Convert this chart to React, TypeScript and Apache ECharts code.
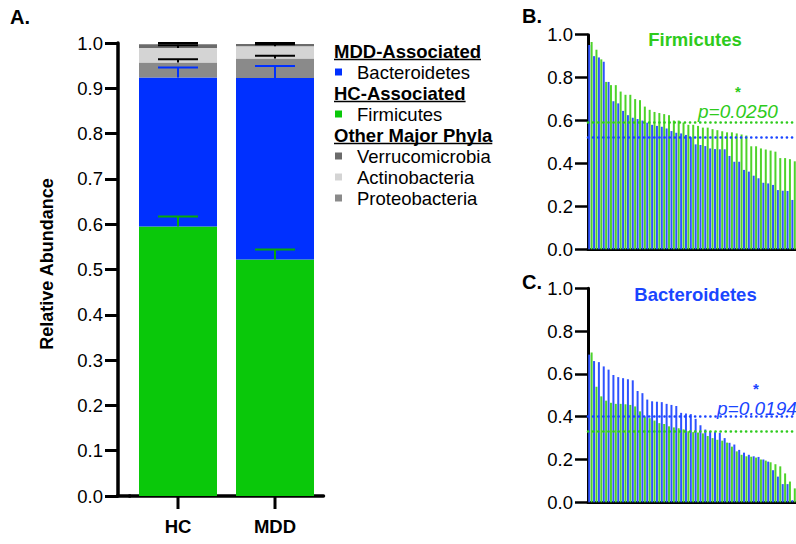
import React, { useEffect, useRef } from "react";
import * as echarts from "echarts";

// ---------- Panel A data ----------
const groups = ["HC", "MDD"];
const firmicutes = [0.595, 0.522];
const bacteroidetes = [0.329, 0.401];
const proteobacteria = [0.033, 0.043];
const actinobacteria = [0.032, 0.027];
const verrucomicrobia = [0.008, 0.005];
const firmicutesErr = [0.022, 0.022];
const bacteroidetesErr = [0.022, 0.026];
const proteobacteriaErr = [0.007, 0.006];
const actinobacteriaErr = [0.006, 0.004];
const verrucomicrobiaErr = [0.003, 0.002];

// ---------- Panel B: Firmicutes per subject (sorted) ----------
const firmHC = [0.966, 0.93, 0.885, 0.78, 0.765, 0.765, 0.735, 0.72, 0.72, 0.7, 0.695, 0.665, 0.65, 0.64, 0.635, 0.63, 0.625, 0.6, 0.6, 0.59, 0.58, 0.58, 0.575, 0.567, 0.567, 0.56, 0.555, 0.55, 0.545, 0.545, 0.54, 0.535, 0.53, 0.48, 0.48, 0.47, 0.465, 0.46, 0.455, 0.425, 0.425, 0.42, 0.41];
const firmMDD = [0.952, 0.9, 0.894, 0.874, 0.78, 0.69, 0.68, 0.645, 0.625, 0.613, 0.607, 0.6, 0.59, 0.58, 0.575, 0.571, 0.563, 0.551, 0.543, 0.54, 0.533, 0.522, 0.489, 0.486, 0.481, 0.47, 0.467, 0.466, 0.466, 0.435, 0.408, 0.408, 0.37, 0.362, 0.343, 0.331, 0.31, 0.307, 0.3, 0.276, 0.273, 0.272, 0.23];

// ---------- Panel C: Bacteroidetes per subject (sorted) ----------
const bactHC = [0.7, 0.54, 0.495, 0.475, 0.465, 0.46, 0.46, 0.458, 0.455, 0.448, 0.425, 0.4, 0.393, 0.382, 0.37, 0.366, 0.355, 0.35, 0.346, 0.341, 0.332, 0.328, 0.326, 0.322, 0.31, 0.3, 0.292, 0.288, 0.279, 0.26, 0.238, 0.222, 0.215, 0.213, 0.209, 0.2, 0.195, 0.187, 0.178, 0.168, 0.135, 0.097, 0.065];
const bactMDD = [0.69, 0.66, 0.655, 0.635, 0.62, 0.595, 0.585, 0.58, 0.575, 0.57, 0.52, 0.51, 0.48, 0.472, 0.47, 0.468, 0.46, 0.455, 0.45, 0.418, 0.415, 0.412, 0.39, 0.36, 0.34, 0.332, 0.328, 0.325, 0.3, 0.278, 0.27, 0.245, 0.232, 0.222, 0.215, 0.212, 0.2, 0.19, 0.15, 0.12, 0.085, 0.085, 0.01];

const firmP = "p=0.0250";
const bactP = "p=0.0194";
const panelLetters = ["A.", "B.", "C."];
const panelTitles = ["Firmicutes", "Bacteroidetes"];
const yName = "Relative Abundance";

const legendRows = [
  { kind: "header", text: "MDD-Associated" },
  { kind: "item", text: "Bacteroidetes", color: "#0030ff" },
  { kind: "header", text: "HC-Associated" },
  { kind: "item", text: "Firmicutes", color: "#0ac80a" },
  { kind: "header", text: "Other Major Phyla" },
  { kind: "item", text: "Verrucomicrobia", color: "#6b6b6b" },
  { kind: "item", text: "Actinobacteria", color: "#d4d4d4" },
  { kind: "item", text: "Proteobacteria", color: "#8a8a8a" },
];

const FONT = "'Liberation Sans', Arial, Helvetica, sans-serif";
const GREEN = "#0ac80a";
const BLUE = "#0030ff";
const THIN_GREEN = "#4fd32a";
const THIN_BLUE = "#2f52ff";
const TXT_GREEN = "#2ecb1c";
const TXT_BLUE = "#1a45ff";

// layout
const gridA = { left: 129.5, top: 43, width: 194, height: 453 };
const axisAOffset = 11.5;
const gridB = { left: 588, top: 34.7, right: 0, height: 214.6 };
const gridC = { left: 588, top: 288.3, right: 0, height: 214 };

function measure(text: string, font: string) {
  const c = document.createElement("canvas").getContext("2d");
  if (!c) return text.length * 10;
  c.font = font;
  return c.measureText(text).width;
}

export default function App() {
  const ref = useRef<HTMLDivElement>(null);
  useEffect(() => {
    const chart = echarts.init(ref.current!, null, { renderer: "svg" });

    const stackSeries = [
      { name: "Firmicutes", data: firmicutes, color: GREEN },
      { name: "Bacteroidetes", data: bacteroidetes, color: BLUE },
      { name: "Proteobacteria", data: proteobacteria, color: "#8a8a8a" },
      { name: "Actinobacteria", data: actinobacteria, color: "#d4d4d4" },
      { name: "Verrucomicrobia", data: verrucomicrobia, color: "#6b6b6b" },
    ];
    const errs = [firmicutesErr, bacteroidetesErr, proteobacteriaErr, actinobacteriaErr, verrucomicrobiaErr];
    const errColors = ["#08a808", BLUE, "#000", "#000", "#000"];

    const errorData: number[][] = [];
    groups.forEach((_, gi) => {
      let cum = 0;
      stackSeries.forEach((s, si) => {
        cum += s.data[gi];
        errorData.push([gi, cum, errs[si][gi], si]);
      });
    });

    const subjects = firmHC.map((_, i) => String(i + 1));

    const yAxisCommon = {
      type: "value",
      min: 0,
      max: 1,
      splitLine: { show: false },
      axisLine: { show: true, onZero: false, lineStyle: { color: "#000", width: 3 } },
      axisTick: { show: true, length: 13, lineStyle: { color: "#000", width: 2.5 } },
      axisLabel: { color: "#000", fontSize: 18.5, fontFamily: FONT, margin: 15, formatter: (v: number) => v.toFixed(1) },
    };

    const dotted = (color: string, value: number) => ({
      silent: true,
      symbol: ["none", "none"],
      label: { show: false },
      z: 20,
      lineStyle: { color, width: 2.6, type: [0.1, 5], cap: "round" },
      data: [{ yAxis: value }],
    });

    const thinBar = (name: string, data: number[], color: string, axis: number, mean: number, lineColor: string) => ({
      name,
      type: "bar",
      xAxisIndex: axis,
      yAxisIndex: axis,
      data,
      barWidth: 2,
      barGap: "20%",
      itemStyle: { color },
      markLine: dotted(lineColor, mean),
    });

    // legend graphics
    const legendEls: any[] = [];
    let y = 51;
    legendRows.forEach((r) => {
      if (r.kind === "header") {
        const font = `bold 18.5px ${FONT}`;
        const w = measure(r.text, font);
        legendEls.push({
          type: "text",
          x: 334,
          y,
          style: { text: r.text, fontSize: 18.5, fontWeight: "bold", fontFamily: FONT, fill: "#000", align: "left", verticalAlign: "middle" },
        });
        legendEls.push({ type: "rect", shape: { x: 334, y: y + 7.75, width: w, height: 1.5 }, style: { fill: "#000" } });
      } else {
        legendEls.push({ type: "rect", shape: { x: 335, y: y - 3.5, width: 7, height: 7 }, style: { fill: (r as any).color } });
        legendEls.push({
          type: "text",
          x: 357,
          y,
          style: { text: r.text, fontSize: 18.5, fontFamily: FONT, fill: "#000", align: "left", verticalAlign: "middle" },
        });
      }
      y += 21;
    });

    const axAx = gridA.left - axisAOffset;

    const option: any = {
      animation: false,
      backgroundColor: "#fff",
      textStyle: { fontFamily: FONT },
      grid: [gridA, gridB, gridC],
      xAxis: [
        {
          type: "category",
          gridIndex: 0,
          data: groups,
          axisLine: { onZero: false, lineStyle: { color: "#000", width: 3.5 } },
          axisTick: { show: false },
          axisLabel: { color: "#000", fontSize: 18.5, fontWeight: "bold", fontFamily: FONT, margin: 21 },
        },
        { type: "category", gridIndex: 1, data: subjects, axisLine: { onZero: false, lineStyle: { color: "#000", width: 3 } }, axisTick: { show: false }, axisLabel: { show: false } },
        { type: "category", gridIndex: 2, data: subjects, axisLine: { onZero: false, lineStyle: { color: "#000", width: 3 } }, axisTick: { show: false }, axisLabel: { show: false } },
      ],
      yAxis: [
        {
          ...yAxisCommon,
          gridIndex: 0,
          interval: 0.1,
          offset: axisAOffset,
          axisLine: { show: true, onZero: false, lineStyle: { color: "#000", width: 3.5 } },
          axisTick: { show: true, length: 13, lineStyle: { color: "#000", width: 3 } },
        },
        { ...yAxisCommon, gridIndex: 1, interval: 0.2 },
        { ...yAxisCommon, gridIndex: 2, interval: 0.2 },
      ],
      series: [
        ...stackSeries.map((s) => ({
          name: s.name,
          type: "bar",
          stack: "total",
          xAxisIndex: 0,
          yAxisIndex: 0,
          data: s.data,
          barWidth: 78,
          itemStyle: { color: s.color },
        })),
        {
          type: "custom",
          xAxisIndex: 0,
          yAxisIndex: 0,
          z: 5,
          clip: false,
          data: errorData,
          encode: { x: 0, y: 1 },
          renderItem: (params: any, api: any) => {
            const cat = api.value(0);
            const top = api.value(1);
            const err = api.value(2);
            const si = api.value(3);
            const color = errColors[si];
            const p0 = api.coord([cat, top]);
            const p1 = api.coord([cat, top + err]);
            const base = api.coord([cat, 0]);
            const half = 20;
            const children: any[] = [
              { type: "rect", shape: { x: p0[0] - 1, y: p1[1], width: 2, height: Math.max(p0[1] - p1[1], 0.5) }, style: { fill: color } },
              { type: "rect", shape: { x: p1[0] - half, y: p1[1] - 1, width: half * 2, height: 2 }, style: { fill: color } },
            ];
            if (si === 0) {
              children.push({ type: "rect", shape: { x: base[0] - 1.5, y: base[1], width: 3, height: 13 }, style: { fill: "#000" } });
            }
            return { type: "group", children };
          },
        },
        thinBar("MDD Firmicutes", firmMDD, THIN_BLUE, 1, firmicutes[1], TXT_BLUE),
        thinBar("HC Firmicutes", firmHC, THIN_GREEN, 1, firmicutes[0], TXT_GREEN),
        thinBar("MDD Bacteroidetes", bactMDD, THIN_BLUE, 2, bacteroidetes[1], TXT_BLUE),
        thinBar("HC Bacteroidetes", bactHC, THIN_GREEN, 2, bacteroidetes[0], TXT_GREEN),
      ],
      graphic: [
        { type: "rect", z: 100, shape: { x: axAx - 1.75, y: gridA.top + gridA.height - 1.75, width: gridA.left - axAx + 3, height: 3.5 }, style: { fill: "#000" } },
        { type: "text", x: 10, y: 17, style: { text: panelLetters[0], fontSize: 20, fontWeight: "bold", fontFamily: FONT, fill: "#000", verticalAlign: "middle" } },
        { type: "text", x: 522, y: 16, style: { text: panelLetters[1], fontSize: 20, fontWeight: "bold", fontFamily: FONT, fill: "#000", verticalAlign: "middle" } },
        { type: "text", x: 522, y: 282, style: { text: panelLetters[2], fontSize: 20, fontWeight: "bold", fontFamily: FONT, fill: "#000", verticalAlign: "middle" } },
        {
          type: "text",
          x: 47,
          y: 264,
          rotation: Math.PI / 2,
          style: { text: yName, fontSize: 18, fontWeight: "bold", fontFamily: FONT, fill: "#000", align: "center", verticalAlign: "middle" },
        },
        { type: "text", x: 695, y: 39, style: { text: panelTitles[0], fontSize: 18.5, fontWeight: "bold", fontFamily: FONT, fill: TXT_GREEN, align: "center", verticalAlign: "middle" } },
        { type: "text", x: 695.5, y: 294, style: { text: panelTitles[1], fontSize: 18.5, fontWeight: "bold", fontFamily: FONT, fill: TXT_BLUE, align: "center", verticalAlign: "middle" } },
        { type: "text", x: 738, y: 91, style: { text: "*", fontSize: 15, fontWeight: "bold", fontFamily: FONT, fill: TXT_GREEN, align: "center", verticalAlign: "middle" } },
        { type: "text", x: 698, y: 111, style: { text: firmP, fontSize: 19, fontStyle: "italic", fontFamily: FONT, fill: TXT_GREEN, align: "left", verticalAlign: "middle" } },
        { type: "text", x: 756, y: 388, style: { text: "*", fontSize: 15, fontWeight: "bold", fontFamily: FONT, fill: TXT_BLUE, align: "center", verticalAlign: "middle" } },
        { type: "text", x: 717, y: 408, style: { text: bactP, fontSize: 19, fontStyle: "italic", fontFamily: FONT, fill: TXT_BLUE, align: "left", verticalAlign: "middle" } },
        ...legendEls,
      ],
    };

    chart.setOption(option);
    return () => chart.dispose();
  }, []);
  return <div ref={ref} style={{ position: "fixed", left: 0, top: 0, width: 796, height: 544, background: "#fff" }} />;
}
